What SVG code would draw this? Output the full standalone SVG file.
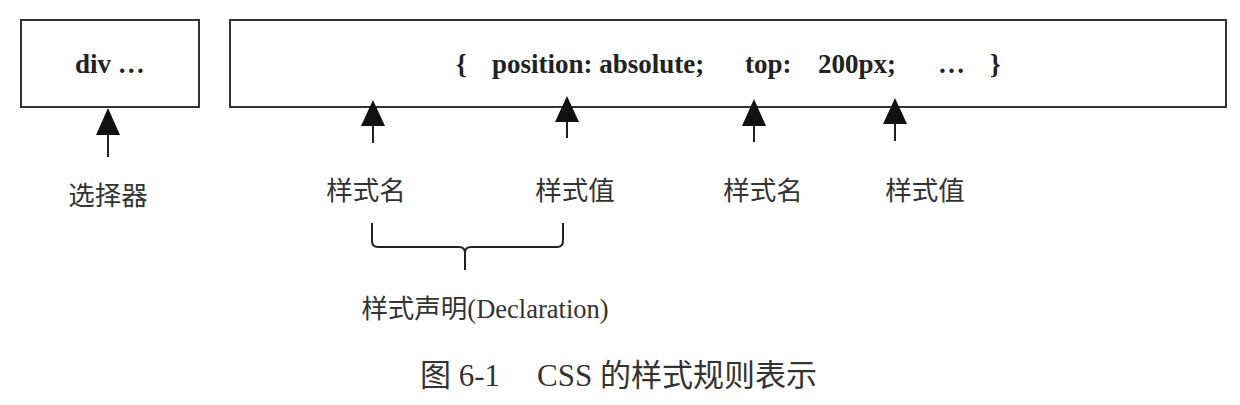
<svg xmlns="http://www.w3.org/2000/svg" width="1240" height="405" viewBox="0 0 1240 405">
<style>
.box{fill:#fff;stroke:#333;stroke-width:2}
.code{font-family:"Liberation Serif","Noto Sans CJK SC",serif;font-weight:bold;font-size:27px;fill:#222}
.lbl{font-family:"Liberation Serif","Noto Sans CJK SC",serif;font-size:26.5px;fill:#333;text-anchor:middle}
.cap{font-family:"Liberation Serif","Noto Sans CJK SC",serif;font-size:31px;fill:#333}
.line{stroke:#222;stroke-width:2;fill:none}
</style>
<rect width="1240" height="405" fill="#fff"/>
<g id="selector-box">
<rect class="box" x="21" y="20" width="178" height="87"/>
<text class="code" x="75" y="73">div …</text>
</g>
<g id="rule-box">
<rect class="box" x="230" y="20" width="996" height="87"/>
<text class="code" x="456" y="73">{</text>
<text class="code" x="492" y="73">position: absolute;</text>
<text class="code" x="745" y="73">top:</text>
<text class="code" x="818" y="73">200px;</text>
<text class="code" x="938" y="73">…</text>
<text class="code" x="990" y="73">}</text>
</g>
<g id="connectors">
<line class="line" x1="108" y1="157" x2="108" y2="134"/>
<polygon points="108,108 96,135 120,135" fill="#111"/>
<line class="line" x1="373" y1="143" x2="373" y2="124"/>
<polygon points="373,100 361,126 385,126" fill="#111"/>
<line class="line" x1="567" y1="138" x2="567" y2="120"/>
<polygon points="567,96 555,122 579,122" fill="#111"/>
<line class="line" x1="754" y1="142" x2="754" y2="124"/>
<polygon points="754,99 742,126 766,126" fill="#111"/>
<line class="line" x1="895" y1="141" x2="895" y2="122"/>
<polygon points="895,98 883,124 907,124" fill="#111"/>
<path class="line" stroke-width="3" d="M372,223 V241 Q372,247 378,247 H459 Q465,247 465,253 V270 M465,253 Q465,247 471,247 H557 Q563,247 563,241 V223"/>
</g>
<g id="label-selector"><text class="lbl" x="108" y="205">选择器</text></g>
<g id="label-name1"><text class="lbl" x="366" y="200">样式名</text></g>
<g id="label-value1"><text class="lbl" x="575" y="200">样式值</text></g>
<g id="label-name2"><text class="lbl" x="763" y="200">样式名</text></g>
<g id="label-value2"><text class="lbl" x="925" y="200">样式值</text></g>
<g id="label-decl"><text class="lbl" x="485" y="318">样式声明(Declaration)</text></g>
<g id="caption"><text class="cap" x="420" y="386">图 6-1<tspan x="537">CSS 的样式规则表示</tspan></text></g>
</svg>
